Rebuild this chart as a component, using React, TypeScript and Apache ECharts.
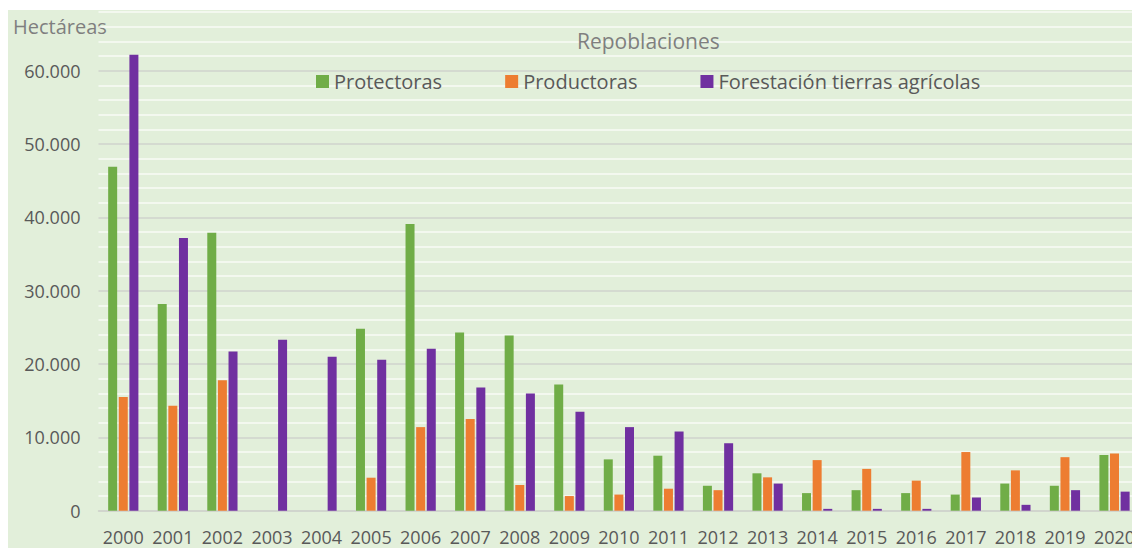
import React, { useEffect, useRef } from "react";
import * as echarts from "echarts";

const years = ["2000","2001","2002","2003","2004","2005","2006","2007","2008","2009","2010","2011","2012","2013","2014","2015","2016","2017","2018","2019","2020"];
const protectoras = [46900, 28200, 37900, null, null, 24800, 39100, 24300, 23900, 17200, 7000, 7500, 3400, 5100, 2400, 2800, 2400, 2200, 3700, 3400, 7600];
const productoras = [15500, 14300, 17800, null, null, 4500, 11400, 12500, 3500, 2000, 2200, 3000, 2800, 4550, 6900, 5700, 4100, 8000, 5500, 7300, 7800];
const forestacion = [62200, 37200, 21700, 23300, 21000, 20600, 22100, 16800, 16000, 13500, 11400, 10800, 9200, 3700, 250, 250, 250, 1800, 800, 2800, 2600];
const seriesNames = ["Protectoras", "Productoras", "Forestación tierras agrícolas"];
const seriesColors = ["#70ad47", "#ed7d31", "#7030a0"];
const chartTitle = "Repoblaciones";
const yAxisTitle = "Hectáreas";

const FONT = '"Open Sans", "Noto Sans", sans-serif';

function fmt(v: number): string {
  return String(v).replace(/\B(?=(\d{3})+(?!\d))/g, ".");
}

export default function App() {
  const ref = useRef<HTMLDivElement>(null);
  useEffect(() => {
    if (!ref.current) return;
    const chart = echarts.init(ref.current, null, { renderer: "svg" });
    const datasets = [protectoras, productoras, forestacion];
    chart.setOption({
      animation: false,
      backgroundColor: "#e2efda",
      textStyle: { fontFamily: FONT },
      title: {
        text: chartTitle,
        left: 569,
        top: 20,
        padding: 0,
        textStyle: { fontSize: 21, fontWeight: "normal", color: "#7f7f7f", fontFamily: FONT },
      },
      legend: {
        left: 308,
        top: 61.5,
        padding: 0,
        itemGap: 63,
        itemWidth: 13,
        itemHeight: 13,
        icon: "rect",
        textStyle: { fontSize: 20, color: "#595959", fontFamily: FONT },
        data: seriesNames,
      },
      graphic: [
        {
          type: "text",
          x: 5,
          y: 16,
          style: {
            text: yAxisTitle,
            font: '20px "Open Sans"',
            fill: "#7f7f7f",
            verticalAlign: "middle",
          },
        },
      ],
      grid: { left: 90.5, right: 4.7, top: 2.1, bottom: 37.3, containLabel: false },
      xAxis: {
        type: "category",
        data: years,
        axisTick: { show: false },
        axisLine: { show: true, lineStyle: { color: "#cfd3cc", width: 1.5 } },
        axisLabel: { fontSize: 18, color: "#595959", margin: 17, fontFamily: FONT, interval: 0 },
        splitLine: { show: false },
      },
      yAxis: {
        type: "value",
        min: 0,
        max: 68000,
        interval: 2000,
        axisLine: { show: false },
        axisTick: { show: false },
        axisLabel: {
          fontSize: 18,
          color: "#595959",
          margin: 18,
          fontFamily: FONT,
          formatter: (v: number) => (v % 10000 === 0 ? fmt(v) : ""),
        },
        splitLine: {
          show: true,
          lineStyle: {
            color: ["#cfd3cc", "#f8fbf6", "#f8fbf6", "#f8fbf6", "#f8fbf6"],
            width: 1.5,
          },
        },
      },
      series: seriesNames.map((name, i) => ({
        name,
        type: "bar",
        data: datasets[i],
        barWidth: 9,
        barGap: "18%",
        itemStyle: { color: seriesColors[i] },
      })),
    });
    return () => chart.dispose();
  }, []);
  return (
    <div
      ref={ref}
      style={{ position: "fixed", left: 8, top: 10, width: 1136, height: 538 }}
    />
  );
}
